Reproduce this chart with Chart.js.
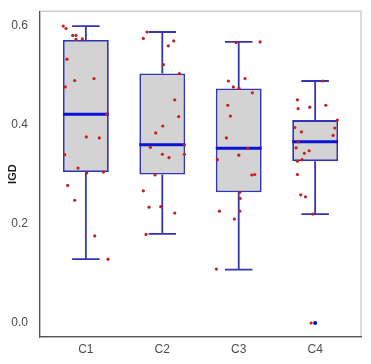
<!DOCTYPE html>
<html>
<head>
<meta charset="utf-8">
<script src="https://cdn.jsdelivr.net/npm/chart.js@4"></script>
<style>
  html, body { margin: 0; padding: 0; background: #fff; }
  #wrap { width: 371px; height: 364px; }
</style>
</head>
<body>
<div id="wrap"><canvas id="chart"></canvas></div>
<script>
  var categories = ["C1", "C2", "C3", "C4"];
  var yTicks = [0, 0.2, 0.4, 0.6];

  // box statistics per category
  var whiskerLow = [0.129, 0.180, 0.108, 0.220];
  var q1 = [0.305, 0.300, 0.264, 0.327];
  var median = [0.422, 0.360, 0.353, 0.366];
  var q3 = [0.572, 0.504, 0.474, 0.410];
  var whiskerHigh = [0.600, 0.588, 0.568, 0.489];
  var outlierCat = [4];
  var outlierVal = [0.0];

  // jittered raw observations (x = category position + jitter)
  var c1x = [0.705, 0.740, 0.828, 0.871, 0.871, 0.953, 0.753, 0.854, 1.107, 0.731, 1.273, 1.006, 1.176, 0.723, 0.897, 1.011, 1.229, 0.762, 0.854, 1.116, 1.290];
  var c1y = [0.600, 0.595, 0.581, 0.581, 0.573, 0.574, 0.533, 0.490, 0.494, 0.477, 0.422, 0.376, 0.374, 0.340, 0.313, 0.303, 0.305, 0.278, 0.248, 0.176, 0.129];
  var c2x = [1.800, 1.752, 2.150, 2.079, 2.014, 2.223, 2.163, 2.215, 2.006, 1.914, 1.844, 2.289, 2.001, 2.088, 2.289, 1.905, 1.752, 1.827, 1.980, 2.163, 1.787];
  var c2y = [0.588, 0.575, 0.570, 0.560, 0.522, 0.504, 0.451, 0.417, 0.398, 0.384, 0.355, 0.360, 0.341, 0.334, 0.341, 0.299, 0.267, 0.234, 0.235, 0.222, 0.179];
  var c3x = [2.965, 3.280, 2.865, 3.083, 2.930, 3.005, 3.179, 2.857, 2.891, 2.839, 3.119, 3.001, 2.721, 3.171, 3.210, 3.014, 3.018, 2.747, 3.014, 2.943, 2.708];
  var c3y = [0.567, 0.568, 0.489, 0.494, 0.477, 0.474, 0.465, 0.440, 0.418, 0.374, 0.353, 0.339, 0.330, 0.299, 0.300, 0.264, 0.252, 0.226, 0.226, 0.210, 0.109];
  var c4x = [4.100, 3.768, 3.777, 3.930, 4.140, 4.291, 3.734, 3.820, 4.257, 4.235, 3.777, 3.751, 3.921, 3.859, 3.829, 3.768, 3.768, 3.812, 3.873, 3.969, 3.947];
  var c4y = [0.489, 0.451, 0.433, 0.436, 0.440, 0.410, 0.395, 0.386, 0.394, 0.379, 0.366, 0.354, 0.348, 0.343, 0.330, 0.327, 0.300, 0.259, 0.255, 0.220, 0.000];

  var BOX_BLUE = "#3434b4";
  var capHalf = 0.18;
  var boxHalf = 0.3;

  function zipPoints(xs, ys) {
    return xs.map(function (x, i) { return { x: x, y: ys[i] }; });
  }

  var jitter = []
    .concat(zipPoints(c1x, c1y))
    .concat(zipPoints(c2x, c2y))
    .concat(zipPoints(c3x, c3y))
    .concat(zipPoints(c4x, c4y));

  var boxes = categories.map(function (c, i) {
    return { x: i + 1, y: [q1[i], q3[i]] };
  });

  var whiskers = [];
  var medians = [];
  categories.forEach(function (c, i) {
    var p = i + 1;
    whiskers.push({ x: p, y: q3[i] }, { x: p, y: whiskerHigh[i] }, { x: p, y: null });
    whiskers.push({ x: p - capHalf, y: whiskerHigh[i] }, { x: p + capHalf, y: whiskerHigh[i] }, { x: p, y: null });
    whiskers.push({ x: p, y: q1[i] }, { x: p, y: whiskerLow[i] }, { x: p, y: null });
    whiskers.push({ x: p - capHalf, y: whiskerLow[i] }, { x: p + capHalf, y: whiskerLow[i] }, { x: p, y: null });
    medians.push({ x: p - boxHalf, y: median[i] }, { x: p + boxHalf, y: median[i] }, { x: p, y: null });
  });

  var outliers = outlierCat.map(function (c, i) { return { x: c, y: outlierVal[i] }; });

  var panelFrame = {
    id: "panelFrame",
    beforeDraw: function (chart) {
      var a = chart.chartArea;
      var ctx = chart.ctx;
      ctx.save();
      ctx.strokeStyle = "#cfcfcf";
      ctx.lineWidth = 1.5;
      ctx.strokeRect(a.left, a.top, a.right - a.left, a.bottom - a.top);
      ctx.restore();
    }
  };

  new Chart(document.getElementById("chart"), {
    type: "bar",
    data: {
      datasets: [
        {
          type: "scatter",
          data: jitter,
          pointRadius: 1.6,
          pointBackgroundColor: "#c81e1e",
          pointBorderWidth: 0,
          order: 0
        },
        {
          type: "scatter",
          data: outliers,
          pointRadius: 2,
          pointBackgroundColor: "#0000cc",
          pointBorderWidth: 0,
          order: 0
        },
        {
          type: "line",
          data: medians,
          borderColor: "#0a14d6",
          borderWidth: 3,
          pointRadius: 0,
          spanGaps: false,
          order: 1
        },
        {
          type: "bar",
          data: boxes,
          backgroundColor: "#d3d3d3",
          borderColor: BOX_BLUE,
          borderWidth: 1.8,
          borderSkipped: false,
          categoryPercentage: 1,
          barPercentage: 0.6,
          order: 2
        },
        {
          type: "line",
          data: whiskers,
          borderColor: BOX_BLUE,
          borderWidth: 1.8,
          pointRadius: 0,
          spanGaps: false,
          order: 3
        }
      ]
    },
    options: {
      responsive: true,
      maintainAspectRatio: false,
      animation: false,
      layout: { padding: { top: 11, right: 10, left: 0, bottom: 0 } },
      plugins: { legend: { display: false }, tooltip: { enabled: false } },
      scales: {
        x: {
          type: "linear",
          min: 0.4,
          max: 4.6,
          offset: false,
          grid: { display: false, offset: false },
          border: { display: true, color: "#555", width: 1.2 },
          afterBuildTicks: function (scale) {
            scale.ticks = categories.map(function (c, i) { return { value: i + 1 }; });
          },
          afterFit: function (scale) { scale.height = 27; },
          ticks: {
            color: "#4d4d4d",
            padding: -3,
            font: { family: "Liberation Sans, Arial, sans-serif", size: 12 },
            callback: function (v) { return categories[v - 1]; }
          }
        },
        y: {
          min: -0.0283,
          max: 0.630,
          grid: { display: false },
          border: { display: true, color: "#555", width: 1.2 },
          afterBuildTicks: function (scale) {
            scale.ticks = yTicks.map(function (v) { return { value: v }; });
          },
          afterFit: function (scale) { scale.width = 40; },
          title: {
            display: true,
            text: "IGD",
            color: "#1a1a1a",
            padding: { top: 6, bottom: 2 },
            font: { family: "Liberation Sans, Arial, sans-serif", size: 11, weight: "bold" }
          },
          ticks: {
            color: "#4d4d4d",
            padding: 4,
            font: { family: "Liberation Sans, Arial, sans-serif", size: 12 },
            callback: function (v) { return v.toFixed(1); }
          }
        }
      }
    },
    plugins: [panelFrame]
  });
</script>
</body>
</html>
